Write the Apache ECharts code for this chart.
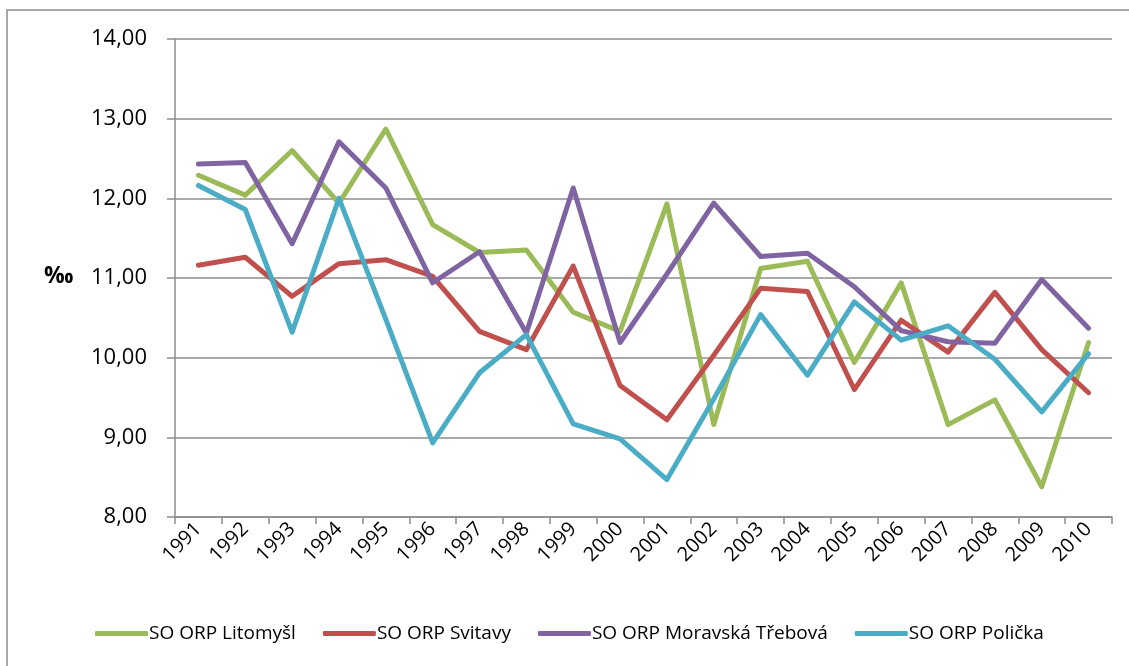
<!DOCTYPE html>
<html>
<head>
<meta charset="utf-8">
<script src="https://cdn.jsdelivr.net/npm/echarts@6/dist/echarts.min.js"></script>
<style>
html, body { margin: 0; padding: 0; background: #fff; }
#main { width: 1129px; height: 666px; }
</style>
</head>
<body>
<div id="main"></div>
<script>
var years = ['1991', '1992', '1993', '1994', '1995', '1996', '1997', '1998', '1999', '2000',
    '2001', '2002', '2003', '2004', '2005', '2006', '2007', '2008', '2009', '2010'];

var litomysl = [12.29, 12.04, 12.60, 11.94, 12.87, 11.67, 11.32, 11.35, 10.57, 10.33,
    11.93, 9.16, 11.12, 11.21, 9.94, 10.94, 9.16, 9.47, 8.38, 10.19];
var svitavy = [11.16, 11.26, 10.77, 11.18, 11.23, 11.02, 10.33, 10.10, 11.15, 9.65,
    9.22, 10.03, 10.87, 10.83, 9.60, 10.47, 10.07, 10.82, 10.10, 9.56];
var moravska = [12.43, 12.45, 11.43, 12.71, 12.13, 10.94, 11.33, 10.31, 12.13, 10.19,
    11.05, 11.94, 11.27, 11.31, 10.89, 10.34, 10.20, 10.18, 10.98, 10.37];
var policka = [12.16, 11.86, 10.32, 12.00, 10.48, 8.93, 9.81, 10.29, 9.17, 8.98,
    8.47, 9.48, 10.54, 9.78, 10.70, 10.22, 10.40, 9.98, 9.32, 10.05];

var names = ['SO ORP Litomyšl', 'SO ORP Svitavy', 'SO ORP Moravská Třebová', 'SO ORP Polička'];
var colors = ['#9BBB59', '#C0504D', '#8064A2', '#4BACC6'];
var allData = [litomysl, svitavy, moravska, policka];

var font = 'Open Sans';
var myChart = echarts.init(document.getElementById('main'));

var series = [];
for (var i = 0; i < allData.length; i++) {
    series.push({
        name: names[i],
        type: 'line',
        data: allData[i],
        symbol: 'none',
        lineStyle: { width: 5, color: colors[i], cap: 'round', join: 'round' },
        itemStyle: { color: colors[i] }
    });
}

myChart.setOption({
    animation: false,
    backgroundColor: '#fff',
    grid: { left: 175, right: 17, top: 39, bottom: 149, containLabel: false },
    graphic: [
        {
            type: 'rect',
            shape: { x: 7, y: 10, width: 1140, height: 680 },
            style: { fill: 'none', stroke: '#8c8c8c', lineWidth: 1.5 }
        },
        {
            type: 'text',
            left: 44, top: 265,
            style: { text: '‰', font: 'bold 23px ' + font, fill: '#000' }
        }
    ],
    legend: {
        bottom: 18,
        left: 90,
        itemWidth: 53,
        itemHeight: 5,
        itemGap: 27,
        icon: 'roundRect',
        textStyle: { fontFamily: font, fontSize: 19, color: '#000', padding: [0, 0, 0, -4] },
        data: names
    },
    xAxis: {
        type: 'category',
        data: years,
        boundaryGap: true,
        axisLine: { lineStyle: { color: '#8c8c8c', width: 1.5 } },
        axisTick: { show: true, length: 7, interval: 0, lineStyle: { color: '#8c8c8c', width: 1.5 } },
        axisLabel: {
            interval: 0, rotate: 45, margin: 9,
            fontFamily: font, fontSize: 20, color: '#000'
        },
        splitLine: { show: false }
    },
    yAxis: {
        type: 'value',
        min: 8, max: 14, interval: 1,
        axisLine: { show: true, lineStyle: { color: '#8c8c8c', width: 1.5 } },
        axisTick: { show: true, length: 8, lineStyle: { color: '#8c8c8c', width: 1.5 } },
        axisLabel: {
            margin: 28, fontFamily: font, fontSize: 22, color: '#000',
            formatter: function (v) { return v.toFixed(2).replace('.', ','); }
        },
        splitLine: { lineStyle: { color: '#8c8c8c', width: 1.5 } }
    },
    series: series
});
</script>
</body>
</html>
